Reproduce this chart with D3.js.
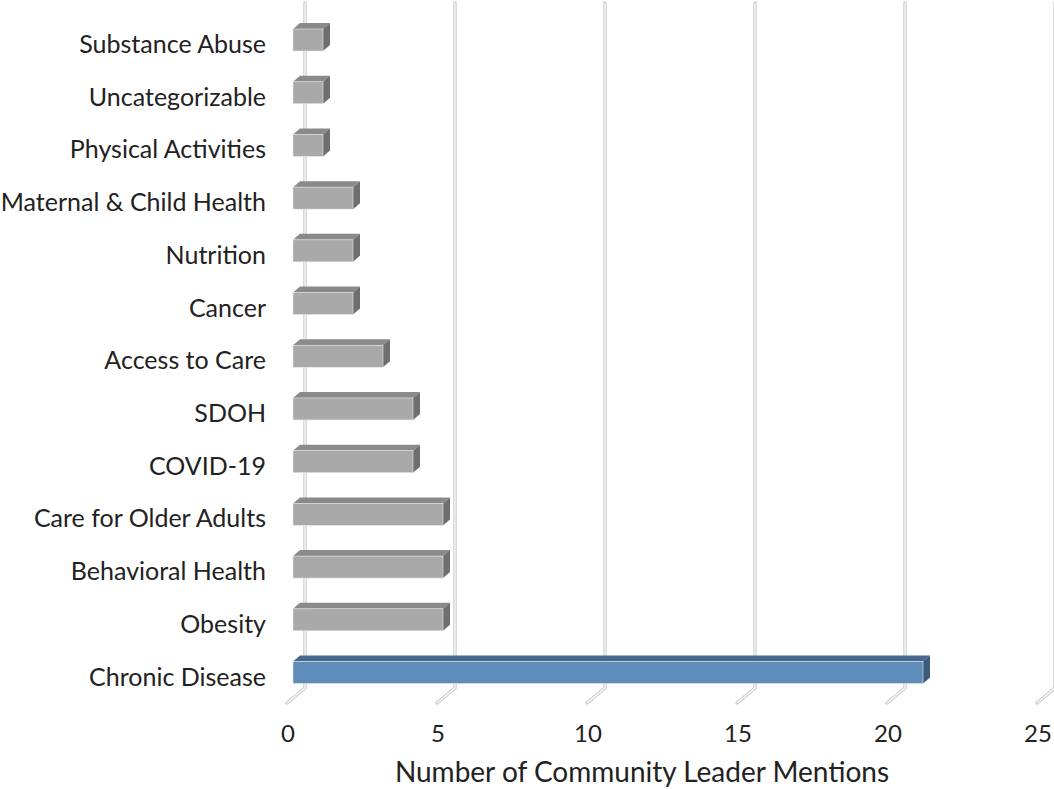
<!DOCTYPE html>
<html>
<head>
<meta charset="utf-8">
<script src="https://cdn.jsdelivr.net/npm/d3@7"></script>
<style>
  body { margin: 0; background: #fff; }
  text { font-family: Lato, "Open Sans", sans-serif; fill: #222; }
</style>
</head>
<body>
<script>
const svgW = 1054;
const svgH = 789;

// data, top to bottom
const categories = ['Substance Abuse', 'Uncategorizable', 'Physical Activities', 'Maternal & Child Health',
  'Nutrition', 'Cancer', 'Access to Care', 'SDOH', 'COVID-19', 'Care for Older Adults',
  'Behavioral Health', 'Obesity', 'Chronic Disease'];
const mentions = [1, 1, 1, 2, 2, 2, 3, 4, 4, 5, 5, 5, 21];
const highlight = ['Chronic Disease'];
const tickValues = [0, 5, 10, 15, 20, 25];
const axisTitle = 'Number of Community Leader Mentions';

const svg = d3.select('body').append('svg')
  .attr('width', svgW)
  .attr('height', svgH);

const depth = { dx: 7, dy: 6 };   // bar depth
const wall = { dx: 18, dy: 15 };  // floor depth

const x = d3.scaleLinear().domain([0, 25]).range([293, 1043]);
const y = d3.scalePoint().domain(categories).range([40, 672.5]);
const barH = 22;
const floorY = 703;

// gridlines on back wall + floor diagonal
const grid = svg.append('g');
tickValues.forEach(t => {
  const fx = x(t) - 6;
  const bx = fx + wall.dx;
  const path = `M${bx},3 L${bx},${floorY - wall.dy} L${fx},${floorY}`;
  grid.append('path').attr('d', path)
    .attr('fill', 'none').attr('stroke', '#cfcfcf').attr('stroke-width', 3.5)
    .attr('stroke-linejoin', 'round').attr('stroke-linecap', 'round');
  grid.append('path').attr('d', path)
    .attr('fill', 'none').attr('stroke', '#fafafa').attr('stroke-width', 1.2);
});

// bars
const bars = svg.append('g').selectAll('g')
  .data(categories.map((c, i) => ({ c, v: mentions[i] })))
  .join('g');

const col = d => highlight.includes(d.c)
  ? { front: '#5f8dba', top: '#46688c', side: '#3c5a7a' }
  : { front: '#a9a9a9', top: '#8a8a8a', side: '#6f6f6f' };

bars.each(function (d) {
  const g = d3.select(this);
  const x0 = x(0), x1 = x(d.v);
  const yt = y(d.c) - barH / 2, yb = yt + barH;
  const c = col(d);
  g.append('path')
    .attr('d', `M${x0},${yt} L${x0 + depth.dx},${yt - depth.dy} L${x1 + depth.dx},${yt - depth.dy} L${x1},${yt} Z`)
    .attr('fill', c.top);
  g.append('path')
    .attr('d', `M${x1},${yt} L${x1 + depth.dx},${yt - depth.dy} L${x1 + depth.dx},${yb - depth.dy} L${x1},${yb} Z`)
    .attr('fill', c.side);
  g.append('rect')
    .attr('x', x0).attr('y', yt)
    .attr('width', x1 - x0).attr('height', barH)
    .attr('fill', c.front)
    .attr('stroke', '#e6e6e6').attr('stroke-width', 0.6);
});

// category labels
svg.append('g').selectAll('text')
  .data(categories)
  .join('text')
  .attr('x', 266)
  .attr('y', d => y(d) + 13)
  .attr('text-anchor', 'end')
  .attr('font-size', 25)
  .text(d => d);

// tick labels
svg.append('g').selectAll('text')
  .data(tickValues)
  .join('text')
  .attr('x', d => x(d) - 5)
  .attr('y', 742)
  .attr('text-anchor', 'middle')
  .attr('font-size', 24)
  .text(d => d);

svg.append('text')
  .attr('x', 642)
  .attr('y', 782)
  .attr('text-anchor', 'middle')
  .attr('font-size', 28)
  .text(axisTitle);
</script>
</body>
</html>
